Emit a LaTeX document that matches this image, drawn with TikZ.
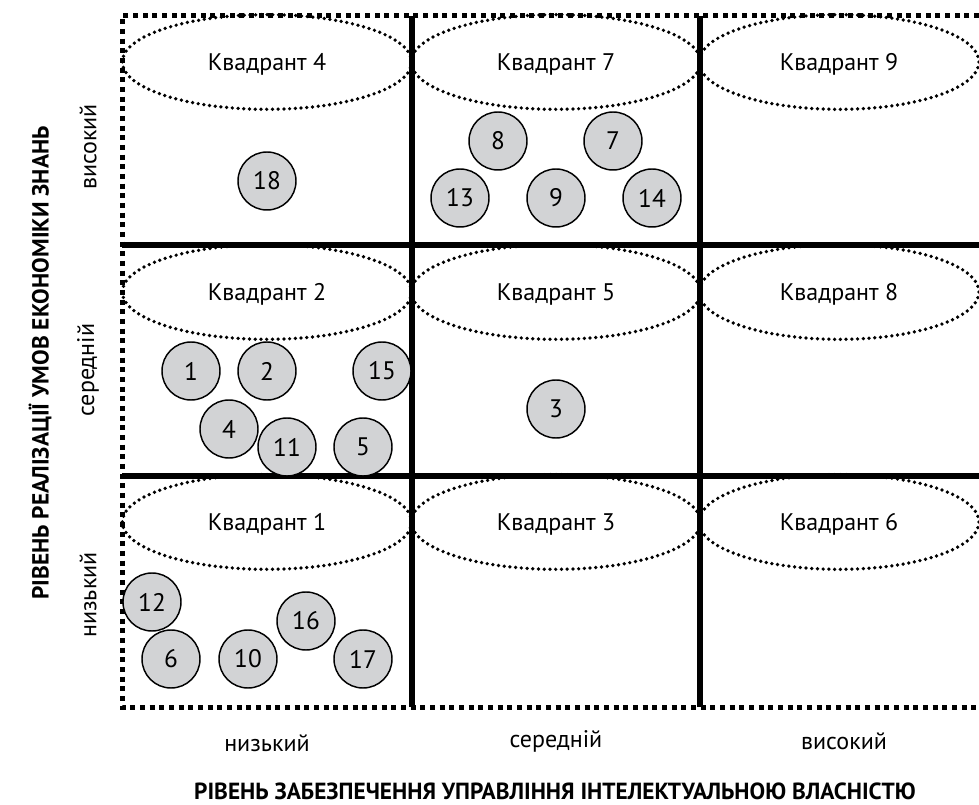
\documentclass[tikz,border=0pt]{standalone}
\usepackage{fontspec}
\setmainfont{PT Sans}
\usetikzlibrary{shapes.geometric}
\definecolor{circlegray}{RGB}{210,211,213}
\tikzset{
  frame-dash/.style={
    line width=3.75pt,
    dash pattern=on 3.75pt off 3.5pt
  },
  grid-line/.style={line width=4pt},
  quad-oval/.style={
    ellipse,
    draw=black,
    line width=2.8pt,
    line cap=round,
    dash pattern=on 0pt off 4.3pt,
    minimum width=217pt,
    minimum height=71pt,
    text depth=0pt,
    font=\fontsize{18}{21}\selectfont
  },
  node-num/.style={circle, draw=black, line width=1.1pt, fill=circlegray, minimum size=43.5pt, inner sep=0pt, font=\fontsize{19}{22}\selectfont},
  axis-label/.style={font=\fontsize{18}{21}\selectfont},
  axis-title/.style={font=\bfseries\fontsize{17.5}{20}\selectfont}
}

\begin{document}
\begin{tikzpicture}[x=0.75pt, y=-0.75pt]
  \useasboundingbox (0,0) rectangle (979,805);
  % Grid
  \draw[grid-line] (412,16) -- (412,707);
  \draw[grid-line] (700,16) -- (700,707);
  \draw[grid-line] (122,245) -- (979,245);
  \draw[grid-line] (122,476) -- (979,476);
  % Outer frame (open on the right)
  \draw[frame-dash] (979,16) -- (122,16) -- (122,707) -- (979,707);
  % Quadrant ovals
  \node[quad-oval] (q4) at (267,62) {Квадрант 4};
  \node[quad-oval] (q7) at (556,62) {Квадрант 7};
  \node[quad-oval, minimum width=210pt] (q9) at (839,62) {Квадрант 9};
  \node[quad-oval] (q2) at (267,292) {Квадрант 2};
  \node[quad-oval] (q5) at (556,292) {Квадрант 5};
  \node[quad-oval, minimum width=210pt] (q8) at (839,292) {Квадрант 8};
  \node[quad-oval] (q1) at (267,522) {Квадрант 1};
  \node[quad-oval] (q3) at (556,522) {Квадрант 3};
  \node[quad-oval, minimum width=210pt] (q6) at (839,522) {Квадрант 6};
  % Numbered circles
  \node[node-num] (c18) at (267,181) {18};
  \node[node-num] (c8) at (498,141) {8};
  \node[node-num] (c7) at (613,141) {7};
  \node[node-num] (c13) at (460,198) {13};
  \node[node-num] (c9) at (556,198) {9};
  \node[node-num] (c14) at (652,198) {14};
  \node[node-num] (c1) at (191,371) {1};
  \node[node-num] (c2) at (267,371) {2};
  \node[node-num] (c15) at (382,371) {15};
  \node[node-num] (c4) at (229,429) {4};
  \node[node-num] (c11) at (287,447) {11};
  \node[node-num] (c5) at (363,447) {5};
  \node[node-num] (c3) at (556,409) {3};
  \node[node-num] (c12) at (152,602) {12};
  \node[node-num] (c16) at (306,621) {16};
  \node[node-num] (c6) at (171,659) {6};
  \node[node-num] (c10) at (248,659) {10};
  \node[node-num] (c17) at (363,659) {17};
  % Axis labels
  \node[axis-label] (xlow) at (267,743) {низький};
  \node[axis-label] (xmid) at (556,741) {середній};
  \node[axis-label] (xhigh) at (844,741) {високий};
  \node[axis-title] (xtitle) at (555,791) {РІВЕНЬ ЗАБЕЗПЕЧЕННЯ УПРАВЛІННЯ ІНТЕЛЕКТУАЛЬНОЮ ВЛАСНІСТЮ};
  \node[axis-label, rotate=90] (yhigh) at (88,147) {високий};
  \node[axis-label, rotate=90] (ymid) at (88,370) {середній};
  \node[axis-label, rotate=90] (ylow) at (88,595) {низький};
  \node[axis-title, rotate=90] (ytitle) at (40,363) {РІВЕНЬ РЕАЛІЗАЦІЇ УМОВ ЕКОНОМІКИ ЗНАНЬ};
\end{tikzpicture}
\end{document}
